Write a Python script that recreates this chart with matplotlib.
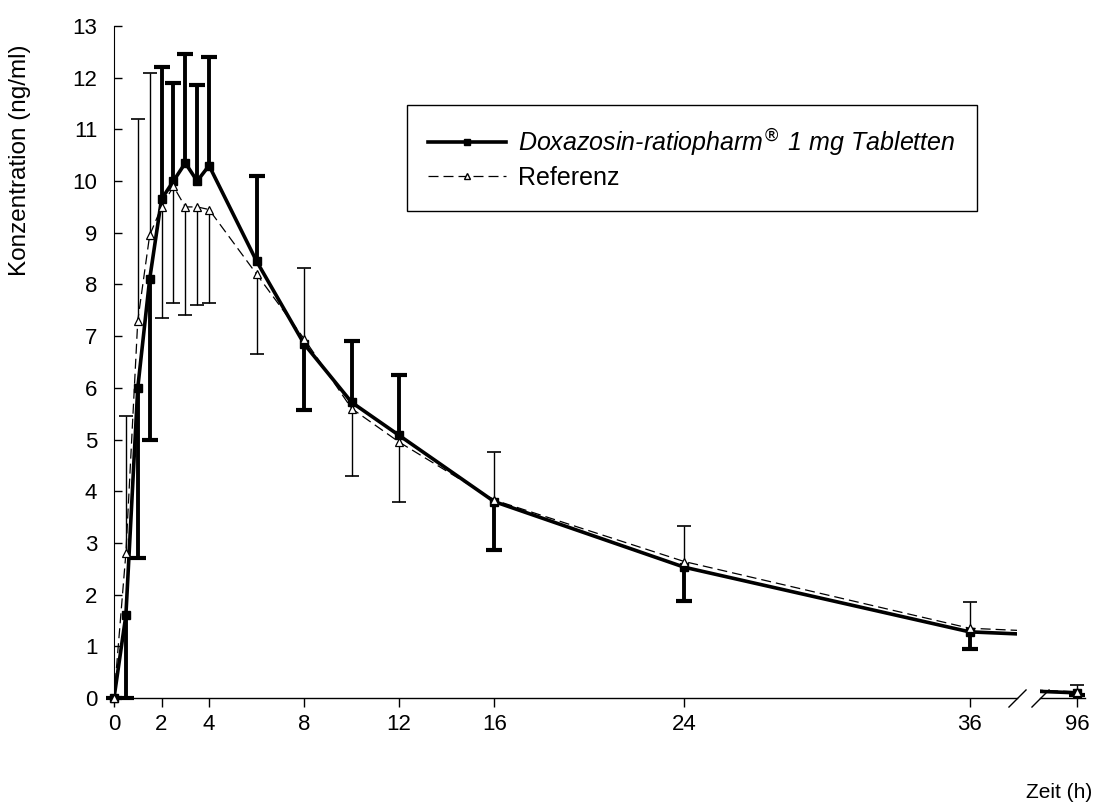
import matplotlib
matplotlib.use('Agg')
import matplotlib.pyplot as plt
import numpy as np

plt.rcParams['font.family'] = ['Liberation Sans', 'DejaVu Sans']

# Messzeitpunkte (h) und Mittelwerte / SD (ng/ml)
hours = np.array([0, 0.5, 1, 1.5, 2, 2.5, 3, 3.5, 4, 6, 8, 10, 12, 16, 24, 36, 96])
test_mean = np.array([0, 1.6, 6.0, 8.1, 9.65, 10.0, 10.35, 10.0, 10.3, 8.45,
                      6.85, 5.72, 5.08, 3.80, 2.53, 1.28, 0.10])
test_sd = np.array([0, 1.6, 3.3, 3.1, 2.55, 1.9, 2.1, 1.85, 2.1, 1.65,
                    1.27, 1.19, 1.16, 0.93, 0.65, 0.34, 0.05])
ref_mean = np.array([0, 2.8, 7.3, 8.95, 9.5, 9.9, 9.5, 9.5, 9.45, 8.2,
                     6.95, 5.6, 4.95, 3.83, 2.64, 1.35, 0.12])
ref_sd = np.array([0, 2.65, 3.9, 3.15, 2.15, 2.25, 2.1, 1.9, 1.8, 1.54,
                   1.37, 1.31, 1.16, 0.93, 0.68, 0.5, 0.13])

labels = ['Doxazosin-ratiopharm$^{\u00ae}$ 1 mg Tabletten', 'Referenz']
xticks_left = [0, 2, 4, 8, 12, 16, 24, 36]
xticks_right = [96]
yticks = list(range(0, 14))

# Fehlerbalken nur in eine Richtung: der hoehere Verlauf nach oben
test_up = test_mean > ref_mean
test_end = np.where(test_up, test_mean + test_sd, test_mean - test_sd)
ref_end = np.where(test_up, ref_mean - ref_sd, ref_mean + ref_sd)

fig = plt.figure(figsize=(10.93, 8.05), dpi=100)
ax1 = fig.add_axes([0.1043, 0.1329, 0.8262, 0.8348])
ax2 = fig.add_axes([0.9515, 0.1329, 0.0412, 0.8348], sharey=ax1)


def draw(ax, mask):
    # Test
    ax.vlines(hours, test_mean, test_end, colors='black', lw=2.8, zorder=3)
    ax.plot(hours[mask], test_end[mask], ls='none', marker='_', ms=12, mew=3,
            color='black', clip_on=False, zorder=3)
    ax.plot(hours, test_mean, color='black', lw=2.6, zorder=4)
    ax.plot(hours[mask], test_mean[mask], ls='none', marker='s', ms=6,
            color='black', clip_on=False, zorder=4)
    # Referenz
    ax.vlines(hours, ref_mean, ref_end, colors='black', lw=1.0, zorder=5)
    ax.plot(hours[mask], ref_end[mask], ls='none', marker='_', ms=10, mew=1.2,
            color='black', clip_on=False, zorder=5)
    ax.plot(hours, ref_mean, color='black', lw=0.9, dashes=(8, 4), zorder=5)
    ax.plot(hours[mask], ref_mean[mask], ls='none', marker='^', ms=6, mew=0.9,
            mfc='white', mec='black', clip_on=False, zorder=6)


draw(ax1, hours <= 38)
draw(ax2, hours >= 94)

ax1.set_xlim(0, 38.0)
ax1.set_ylim(0, 13)
ax2.set_xlim(94.57, 96.3)

for ax in (ax1, ax2):
    ax.spines['top'].set_visible(False)
    ax.spines['right'].set_visible(False)
    ax.spines['bottom'].set_linewidth(1.0)
    ax.tick_params(axis='x', direction='out', length=6.5, width=1.0,
                   labelsize=16, pad=5)
ax2.spines['left'].set_visible(False)
ax2.tick_params(axis='y', left=False, labelleft=False)

ax1.set_xticks(xticks_left)
ax2.set_xticks(xticks_right)
ax1.set_yticks(yticks)
ax1.tick_params(axis='y', direction='in', length=6, width=1.0,
                labelsize=16, pad=12)

# Achsenbruch
brk = dict(marker=[(-1, -1), (1, 1)], markersize=13, linestyle='none',
           color='black', mec='black', mew=1.0, clip_on=False)
ax1.plot([1], [0], transform=ax1.transAxes, **brk)
ax2.plot([0], [0], transform=ax2.transAxes, **brk)

fig.text(20 / 1093, 1 - 160 / 805, 'Konzentration (ng/ml)', rotation=90,
         ha='center', va='center', fontsize=17.5)
fig.text(1059 / 1093, 1 - 792 / 805, 'Zeit (h)', ha='center', va='center',
         fontsize=15)

h1 = plt.Line2D([], [], color='black', lw=2.6, marker='s', ms=5)
h2 = plt.Line2D([], [], color='black', lw=0.9, dashes=(8, 4), marker='^',
                ms=5, mfc='white', mec='black')
leg = ax1.legend([h1, h2], labels, loc='upper left',
                 bbox_to_anchor=(407 / 1093, 1 - 105 / 805),
                 bbox_transform=fig.transFigure, fancybox=False,
                 edgecolor='black', framealpha=1, fontsize=18,
                 borderaxespad=0, handlelength=3.1, borderpad=0.85,
                 labelspacing=0.3, handletextpad=0.5)
leg.get_frame().set_linewidth(1.0)
leg.get_texts()[0].set_style('italic')

fig.savefig('out.png', dpi=100)
plt.close(fig)
